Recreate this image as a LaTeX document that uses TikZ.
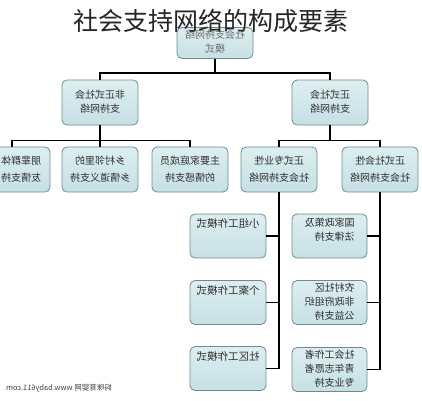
\documentclass[tikz,border=0pt]{standalone}
\usepackage{fontspec}
\usepackage{graphicx}
\newfontfamily\cjk{Noto Sans CJK SC}
\usetikzlibrary{positioning}
\definecolor{boxfill}{HTML}{C6E0E4}
\definecolor{boxtop}{HTML}{DDEEF0}
\definecolor{boxdraw}{HTML}{6E8B90}
\definecolor{boxtext}{HTML}{303030}
\tikzset{
    boxnode/.style = {draw=boxdraw, rectangle, rounded corners=0.5em, top color=boxtop, bottom color=boxfill,
      line width=0.8pt, minimum width=76pt, minimum height=45pt, inner sep=0pt,
      font=\cjk\fontsize{10}{14}\selectfont, text=boxtext},
    levelnode/.style = {boxnode, font=\cjk\fontsize{10}{17}\selectfont},
    leafnode/.style = {boxnode, minimum height=44pt},
    textnode/.style  = {draw=none, fill=none, rectangle, inner sep=0pt, font=\cjk},
    connect/.style = {black, line width=1.3pt},
    every text node part/.style={align=center}
}
\newcommand{\flipc}[1]{\reflectbox{\begin{tabular}{@{}c@{}}#1\end{tabular}}}
\newcommand{\flipl}[1]{\reflectbox{\begin{tabular}{@{}l@{}}#1\end{tabular}}}
\newcommand{\lift}[2]{\raisebox{#1}[\height][\depth]{#2}}

\begin{document}
\begin{tikzpicture}[x=1pt, y=-1pt]
    \useasboundingbox (0,0) rectangle (422,400);

    \node [name=top, boxnode, minimum height=31pt, text=boxtext!70] at (215,43) {\flipc{社会支持网络\\模式}};
    \node [name=title, textnode, font=\cjk\fontsize{25}{25}\selectfont, text=black!85] at (211,21) {社会支持网络的构成要素};

    \node [name=informal, boxnode] at (100,102.5) {\flipc{非正式社会\\支持网络}};
    \node [name=formal, boxnode] at (330,102.5) {\flipc{正式社会\\支持网络}};

    \node [name=peer, levelnode] at (12,169.5) {\hspace*{18pt}\flipc{朋辈群体\\友情支持}};
    \node [name=neighbour, levelnode] at (100,169.5) {\flipc{乡村邻里的\\乡情道义支持}};
    \node [name=family, levelnode] at (190,169.5) {\flipc{主要家庭成员\\的情感支持}};
    \node [name=profnet, levelnode] at (279,169.5) {\flipc{正式专业性\\社会支持网络}};
    \node [name=socnet, levelnode] at (380,169.5) {\flipc{正式社会性\\社会支持网络}};

    % professional side
    \node [name=group, leafnode, font=\cjk\fontsize{10.5}{14}\selectfont] at (228,236) {\lift{11pt}{\flipc{小组工作模式}}};
    \node [name=casework, leafnode, font=\cjk\fontsize{10.5}{14}\selectfont] at (228,302.5) {\lift{11pt}{\flipc{个案工作模式}}};
    \node [name=community, leafnode, font=\cjk\fontsize{10.5}{14}\selectfont] at (228,368.5) {\lift{11pt}{\flipc{社区工作模式}}};

    % social side
    \node [name=policy, leafnode, minimum width=75pt] at (329.5,236) {\lift{5pt}{\flipl{国家政策及\\法律支持}}};
    \node [name=ngo, leafnode, minimum width=75pt] at (329.5,302.5) {\flipl{农村社区\\非政府组织\\公益支持}};
    \node [name=worker, leafnode, minimum width=75pt] at (329.5,369.5) {\flipl{社会工作者\\青年志愿者\\专业支持}};

    \draw [connect] (top.south) -- ++(0,14) coordinate (topbar) -| (informal.north);
    \draw [connect] (topbar) -| (formal.north);

    \draw [connect] (informal.south) -- ++(0,15) coordinate (infbar) -| (peer.north);
    \draw [connect] (infbar) -| (neighbour.north);
    \draw [connect] (infbar) -| (family.north);

    \draw [connect] (formal.south) -- ++(0,15) coordinate (forbar) -| (profnet.north);
    \draw [connect] (forbar) -| (socnet.north);

    \draw [connect] (profnet.south) |- (community.east);
    \draw [connect] (group.east) -- (group.east -| profnet.south);
    \draw [connect] (casework.east) -- (casework.east -| profnet.south);

    \draw [connect] (socnet.south) |- (worker.east);
    \draw [connect] (policy.east) -- (policy.east -| socnet.south);
    \draw [connect] (ngo.east) -- (ngo.east -| socnet.south);

    \node [name=footer, textnode, font=\cjk\fontsize{7.5}{8}\selectfont, text=black!75] at (59,388) {\reflectbox{妈咪育婴网 www.baby611.com}};
\end{tikzpicture}
\end{document}
